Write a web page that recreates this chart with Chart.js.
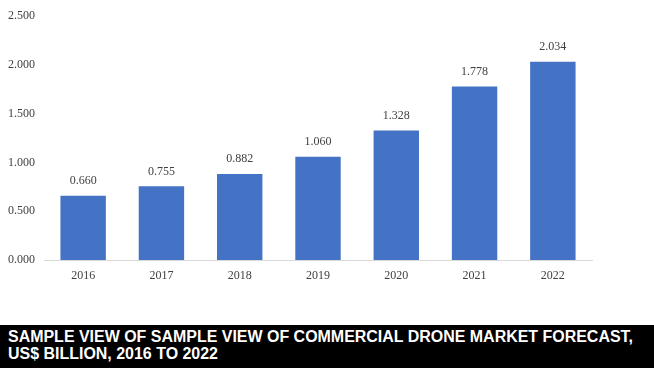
<!DOCTYPE html>
<html>
<head>
<meta charset="utf-8">
<script src="https://cdn.jsdelivr.net/npm/chart.js@4.4.0/dist/chart.umd.min.js"></script>
<style>
  html, body { margin: 0; padding: 0; background: #fff; overflow: hidden; }
  #wrap { position: relative; width: 654px; height: 325px; }
  #banner {
    position: absolute; left: 0; top: 325px; width: 654px; height: 43px;
    background: #000; color: #fff; overflow: hidden;
    font-family: "Liberation Sans", Arial, sans-serif;
    font-weight: bold; font-size: 16px; line-height: 17px;
    padding: 3px 0 0 8px; box-sizing: border-box;
  }
  #banner div { white-space: nowrap; transform-origin: 0 50%; display: inline-block; }
</style>
</head>
<body>
<div id="wrap"><canvas id="grafico"></canvas></div>
<div id="banner"><div id="l1">SAMPLE VIEW OF SAMPLE VIEW OF COMMERCIAL DRONE MARKET FORECAST,</div><br><div id="l2">US$ BILLION, 2016 TO 2022</div></div>
<script>
const years = ['2016', '2017', '2018', '2019', '2020', '2021', '2022'];
const marketValues = [0.660, 0.755, 0.882, 1.060, 1.328, 1.778, 2.034];  // US$ bilhões
const yTicks = [0, 0.5, 1.0, 1.5, 2.0, 2.5];

// título estreito: comprime as linhas para a largura da faixa
const l1 = document.getElementById('l1');
const l2 = document.getElementById('l2');
const sx = 625 / l1.getBoundingClientRect().width;
l1.style.transform = 'scaleX(' + sx + ')';
l2.style.transform = 'scaleX(' + sx + ')';

// rótulos de valor acima das barras
const valueLabels = {
  id: 'valueLabels',
  afterDatasetsDraw(chart) {
    const ctx = chart.ctx;
    const meta = chart.getDatasetMeta(0);
    ctx.save();
    ctx.font = '12px "Liberation Serif", "Times New Roman", serif';
    ctx.fillStyle = '#404040';
    ctx.textAlign = 'center';
    ctx.textBaseline = 'bottom';
    meta.data.forEach((bar, i) => {
      ctx.fillText(marketValues[i].toFixed(3), bar.x, bar.y - 9);
    });
    ctx.restore();
  }
};

const ctx = document.getElementById('grafico');

new Chart(ctx, {
  type: 'bar',
  data: {
    labels: years,
    datasets: [{
      data: marketValues,
      backgroundColor: '#4472C4',
      borderWidth: 0,
      barPercentage: 0.58,
      categoryPercentage: 1.0
    }]
  },
  options: {
    responsive: true,
    maintainAspectRatio: false,
    animation: false,
    layout: { padding: { top: 14, right: 62, left: 0, bottom: 0 } },
    plugins: {
      legend: { display: false },
      tooltip: { enabled: false }
    },
    scales: {
      x: {
        grid: { display: false, drawTicks: false },
        border: { display: true, color: '#d9d9d9', width: 1 },
        ticks: {
          color: '#404040',
          padding: 9,
          font: { family: '"Liberation Serif", "Times New Roman", serif', size: 12 }
        },
        afterFit(scale) { scale.height = 65; }
      },
      y: {
        min: 0,
        max: 2.5,
        afterBuildTicks(scale) { scale.ticks = yTicks.map(v => ({ value: v })); },
        grid: { display: false, drawTicks: false },
        border: { display: false },
        ticks: {
          color: '#404040',
          padding: 9,
          font: { family: '"Liberation Serif", "Times New Roman", serif', size: 12 },
          callback: (v) => Number(v).toFixed(3)
        },
        afterFit(scale) { scale.width = 44; }
      }
    }
  },
  plugins: [valueLabels]
});
</script>
</body>
</html>
